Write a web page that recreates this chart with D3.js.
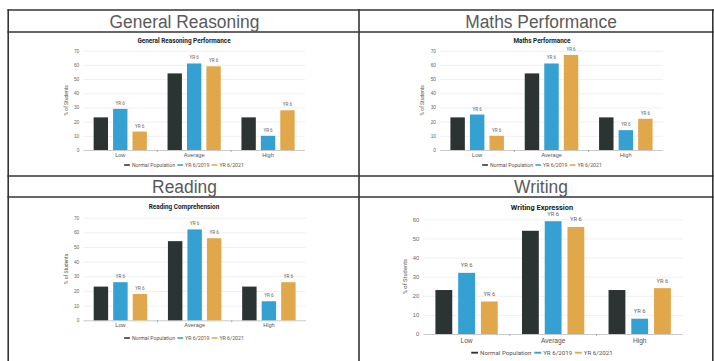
<!DOCTYPE html>
<html>
<head>
<meta charset="utf-8">
<script src="https://cdn.jsdelivr.net/npm/d3@7"></script>
<style>
  html, body { margin: 0; padding: 0; background: #fff; }
  svg { display: block; font-family: Roboto, "Liberation Sans", Arial, sans-serif; }
</style>
</head>
<body>
<svg id="chart" width="714" height="361"></svg>
<script>
// ---- data ----
const categories = ["Low", "Average", "High"];
const seriesNames = ["Normal Population", "YR 6/2019", "YR 6/2021"];
const barLabel = "YR 6";

const panelHeadings = ["General Reasoning", "Maths Performance", "Reading", "Writing"];
const chartTitles = ["General Reasoning Performance", "Maths Performance", "Reading Comprehension", "Writing Expression"];
const yAxisTitle = "% of Students";

const ticksTo70 = [0, 10, 20, 30, 40, 50, 60, 70];
const ticksTo60 = [0, 10, 20, 30, 40, 50, 60];

const reasoningNormal = [23, 54, 23];
const reasoning2019 = [29, 61, 10];
const reasoning2021 = [13, 59, 28];

const mathsNormal = [23, 54, 23];
const maths2019 = [25, 61, 14];
const maths2021 = [10, 67, 22];

const readingNormal = [23, 54, 23];
const reading2019 = [26, 62, 13];
const reading2021 = [18, 56, 26];

const writingNormal = [23, 54, 23];
const writing2019 = [32, 59, 8];
const writing2021 = [17, 56, 24];

// ---- styles ----
const colors = ["#2c3433", "#35a1d2", "#e1a84b"];
const svg = d3.select("#chart");

// ---- table frame ----
const frame = svg.append("g").attr("stroke", "#333").attr("stroke-width", 1.6);
[10, 32, 176, 197].forEach(yy =>
  frame.append("line").attr("x1", 7.5).attr("x2", 714).attr("y1", yy).attr("y2", yy));
[8.2, 359, 712.8].forEach(xx =>
  frame.append("line").attr("x1", xx).attr("x2", xx).attr("y1", 9.2).attr("y2", 361));

const headingPos = [[184.5, 27.5], [541, 27.5], [184.5, 193], [541, 193]];
panelHeadings.forEach((h, i) => {
  svg.append("text")
    .attr("transform", `translate(${headingPos[i][0]},${headingPos[i][1]}) scale(1,1.08)`)
    .attr("text-anchor", "middle")
    .attr("font-family", "'Liberation Sans', Arial, sans-serif")
    .attr("font-size", 17.4).attr("fill", "#5a5a5a")
    .text(h);
});

// ---- chart drawing ----
function drawChart(cfg, values, title, ticks) {
  const g = svg.append("g");
  const y = d3.scaleLinear().domain([0, d3.max(ticks)]).range([cfg.bottom, cfg.top]);
  const x0 = d3.scaleBand().domain(categories).range([cfg.left, cfg.right])
    .paddingInner(0.28).paddingOuter(0.14);
  const x1 = d3.scaleBand().domain(seriesNames).range([0, x0.bandwidth()]).paddingInner(0.26);

  // y axis with gridlines
  const ya = g.append("g").attr("transform", `translate(${cfg.left},0)`)
    .call(d3.axisLeft(y).tickValues(ticks).tickSize(-(cfg.right - cfg.left)).tickPadding(cfg.tickPad));
  ya.select(".domain").remove();
  ya.selectAll(".tick line").attr("stroke", d => d === 0 ? "#bdbdbd" : "#ececec").attr("stroke-width", 0.8);
  ya.selectAll(".tick text").attr("fill", "#666").attr("font-size", cfg.tickFont).attr("font-family", null);

  // x axis labels
  const xa = g.append("g").attr("transform", `translate(0,${cfg.bottom})`)
    .call(d3.axisBottom(x0).tickSize(0).tickPadding(cfg.catPad));
  xa.select(".domain").remove();
  xa.selectAll(".tick text").attr("fill", "#555").attr("font-size", cfg.catFont).attr("font-family", null);

  // small separators between category groups
  const step = x0.step();
  categories.slice(1).forEach(c => {
    const sx = x0(c) - step * x0.paddingInner() / 2;
    g.append("line").attr("x1", sx).attr("x2", sx)
      .attr("y1", cfg.bottom).attr("y2", cfg.bottom + 2)
      .attr("stroke", "#999").attr("stroke-width", 0.8);
  });

  // bars
  seriesNames.forEach((s, si) => {
    g.append("g").selectAll("rect").data(values[si]).join("rect")
      .attr("x", (d, ci) => x0(categories[ci]) + x1(s))
      .attr("y", d => y(d))
      .attr("width", x1.bandwidth())
      .attr("height", d => y(0) - y(d))
      .attr("fill", colors[si]);
    if (si > 0) {
      g.append("g").selectAll("text").data(values[si]).join("text")
        .attr("x", (d, ci) => x0(categories[ci]) + x1(s) + x1.bandwidth() / 2)
        .attr("y", d => y(d) - cfg.labelGap)
        .attr("text-anchor", "middle")
        .attr("font-size", cfg.labelFont).attr("fill", "#666")
        .text(barLabel);
    }
  });

  // chart title
  g.append("text").attr("x", cfg.cx).attr("y", cfg.titleY)
    .attr("text-anchor", "middle").attr("dominant-baseline", "central")
    .attr("font-size", cfg.titleFont).attr("font-weight", "bold").attr("fill", "#222")
    .text(title);

  // y axis title
  g.append("text")
    .attr("transform", `translate(${cfg.yTitleX},${(cfg.top + cfg.bottom) / 2}) rotate(-90)`)
    .attr("text-anchor", "middle").attr("dominant-baseline", "central")
    .attr("font-size", cfg.yTitleFont).attr("fill", "#555")
    .text(yAxisTitle);

  // legend
  const lg = g.append("g");
  let cursor = 0;
  seriesNames.forEach((s, si) => {
    const it = lg.append("g");
    it.append("rect").attr("x", 0).attr("y", -cfg.legendFont * 0.15).attr("width", cfg.legendFont * 1.1)
      .attr("height", cfg.legendFont * 0.3).attr("fill", colors[si]);
    const t = it.append("text").attr("x", cfg.legendFont * 1.1 + 2).attr("dominant-baseline", "central")
      .attr("font-size", cfg.legendFont).attr("fill", "#555").text(s);
    const w = cfg.legendFont * 1.1 + 2 + t.node().getComputedTextLength();
    it.attr("transform", `translate(${cursor},0)`);
    cursor += w + cfg.legendFont * 0.45;
  });
  const total = cursor - cfg.legendFont * 0.45;
  lg.attr("transform", `translate(${cfg.cx - total / 2},${cfg.legendY})`);
}

const small = { tickFont: 4.8, tickPad: 4, catFont: 5.6, catPad: 3, labelFont: 4.6, labelGap: 4,
  titleFont: 6.4, yTitleFont: 5, legendFont: 5.2 };

drawChart(Object.assign({}, small, { left: 83.3, right: 305, top: 50.7, bottom: 150, cx: 184, titleY: 41,
  yTitleX: 66, legendY: 165 }),
  [reasoningNormal, reasoning2019, reasoning2021], chartTitles[0], ticksTo70);

drawChart(Object.assign({}, small, { left: 440, right: 663, top: 50.7, bottom: 150, cx: 542, titleY: 41,
  yTitleX: 422, legendY: 165 }),
  [mathsNormal, maths2019, maths2021], chartTitles[1], ticksTo70);

drawChart(Object.assign({}, small, { left: 83.3, right: 306, top: 217.7, bottom: 320.3, cx: 184, titleY: 206.7,
  yTitleX: 66, legendY: 338 }),
  [readingNormal, reading2019, reading2021], chartTitles[2], ticksTo70);

drawChart({ left: 423.3, right: 683, top: 219.3, bottom: 334, cx: 542, titleY: 207.7,
  yTitleX: 405, legendY: 352.7, tickFont: 5.8, tickPad: 4, catFont: 6.6, catPad: 4, labelFont: 5.8, labelGap: 5.5,
  titleFont: 7.4, yTitleFont: 5.8, legendFont: 6.2 },
  [writingNormal, writing2019, writing2021], chartTitles[3], ticksTo60);
</script>
</body>
</html>
